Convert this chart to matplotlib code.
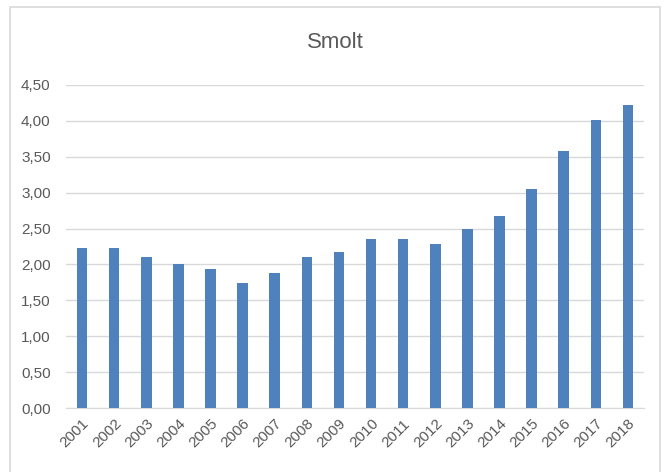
import numpy as np
import matplotlib
matplotlib.use("Agg")
import matplotlib.pyplot as plt
from matplotlib.patches import Rectangle

plt.rcParams['font.family'] = ['Liberation Sans Narrow', 'Liberation Sans', 'DejaVu Sans']

years = ["2001", "2002", "2003", "2004", "2005", "2006", "2007", "2008", "2009",
         "2010", "2011", "2012", "2013", "2014", "2015", "2016", "2017", "2018"]
values = [2.23, 2.23, 2.11, 2.00, 1.94, 1.74, 1.88, 2.11, 2.17,
          2.35, 2.35, 2.29, 2.50, 2.67, 3.05, 3.58, 4.01, 4.22]
yticks = [0.0, 0.5, 1.0, 1.5, 2.0, 2.5, 3.0, 3.5, 4.0, 4.5]

textcol = "#595959"
gridcol = "#d9d9d9"

fig = plt.figure(figsize=(6.66, 4.72), dpi=100)
ax = fig.add_axes([0.099, 0.135, 0.868, 0.6856])

x = np.arange(len(years))
ax.bar(x, values, width=0.33, color="#4f81bd", zorder=3)

ax.set_xlim(-0.5, len(years) - 0.5)
ax.set_ylim(0, 4.5)
ax.set_yticks(yticks)
ax.set_yticklabels([("%.2f" % v).replace(".", ",") for v in yticks],
                   fontsize=11, color=textcol)
ax.set_xticks(x)
ax.set_xticklabels(years, rotation=45, ha="right", rotation_mode="anchor",
                   fontsize=11, color=textcol)

ax.grid(axis="y", color=gridcol, linewidth=1, zorder=0)
ax.tick_params(length=0)
ax.tick_params(axis="y", pad=11)
ax.tick_params(axis="x", pad=6)
for s in ["top", "right", "left"]:
    ax.spines[s].set_visible(False)
ax.spines["bottom"].set_color(gridcol)

fig.text(0.503, 0.91, "Smolt", ha="center", va="center", fontsize=16, color=textcol)

# outer chart frame
fig.patches.append(Rectangle((10 / 666, -0.05), 650 / 666, 1.05 - 7 / 472,
                             transform=fig.transFigure, fill=False,
                             edgecolor=gridcol, linewidth=1.2))

fig.savefig("out.png", dpi=100, facecolor="white")
